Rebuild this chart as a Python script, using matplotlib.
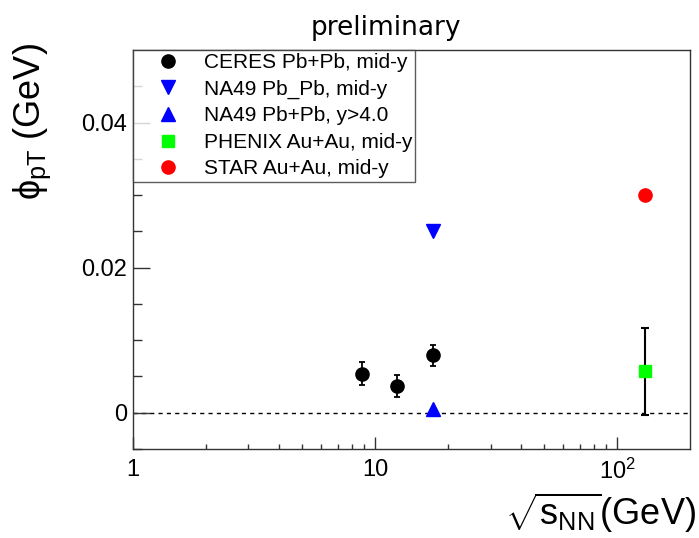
import matplotlib
matplotlib.use('Agg')
import matplotlib.pyplot as plt
from matplotlib.ticker import FixedLocator, FixedFormatter, NullFormatter

plt.rcParams['font.family'] = ['Liberation Sans', 'DejaVu Sans']
plt.rcParams['mathtext.fontset'] = 'custom'
plt.rcParams['mathtext.rm'] = 'Liberation Sans'
plt.rcParams['mathtext.it'] = 'Liberation Sans'
plt.rcParams['mathtext.bf'] = 'Liberation Sans:bold'

# phi_pT vs sqrt(s_NN)
ceres_x = [8.8, 12.3, 17.3]
ceres_y = [0.0054, 0.0037, 0.0079]
ceres_err = [0.0016, 0.0015, 0.0015]

na49_mid_x = [17.3]
na49_mid_y = [0.0251]

na49_fwd_x = [17.3]
na49_fwd_y = [0.0005]

phenix_x = [130.0]
phenix_y = [0.0057]
phenix_err = [0.0060]

star_x = [130.0]
star_y = [0.0300]

fig = plt.figure(figsize=(6.99, 5.38), dpi=100)
ax = fig.add_axes([133 / 699, 89 / 538, 557 / 699, 399 / 538])

ax.axhline(0, color='black', lw=1, ls=(0, (3, 3)), zorder=1)

# error bars first, markers on top (markers carry the legend labels)
ax.errorbar(ceres_x, ceres_y, yerr=ceres_err, fmt='none', ecolor='black',
            capsize=2.5, elinewidth=1.3, capthick=1.3, zorder=2)
ax.errorbar(phenix_x, phenix_y, yerr=phenix_err, fmt='none', ecolor='black',
            capsize=3, elinewidth=1.5, capthick=1.5, zorder=2)

h1, = ax.plot(ceres_x, ceres_y, 'o', color='black', ms=9.5, ls='none',
              label='CERES Pb+Pb, mid-y', zorder=3)
h2, = ax.plot(na49_mid_x, na49_mid_y, 'v', color='#0000ff', ms=9.5, ls='none',
              label='NA49 Pb_Pb, mid-y', zorder=3)
h3, = ax.plot(na49_fwd_x, na49_fwd_y, '^', color='#0000ff', ms=9.5, ls='none',
              label='NA49 Pb+Pb, y>4.0', zorder=3)
h4, = ax.plot(phenix_x, phenix_y, 's', color='#00ff00', ms=9, ls='none',
              label='PHENIX Au+Au, mid-y', zorder=3)
h5, = ax.plot(star_x, star_y, 'o', color='#ff0000', ms=9.5, ls='none',
              label='STAR Au+Au, mid-y', zorder=3)

ax.set_xscale('log')
ax.set_xlim(1, 200)
ax.set_ylim(-0.005, 0.05)

ax.xaxis.set_major_locator(FixedLocator([1, 10, 100]))
ax.xaxis.set_major_formatter(FixedFormatter(['1', '10', r'$10^{2}$']))
minor_x = [m * d for d in (1, 10) for m in range(2, 10)]
ax.xaxis.set_minor_locator(FixedLocator(minor_x))
ax.xaxis.set_minor_formatter(NullFormatter())

ax.yaxis.set_major_locator(FixedLocator([0, 0.02, 0.04]))
ax.yaxis.set_major_formatter(FixedFormatter(['0', '0.02', '0.04']))
ax.yaxis.set_minor_locator(FixedLocator([-0.005, 0.005, 0.01, 0.015, 0.025, 0.03, 0.035, 0.045]))

ax.tick_params(axis='both', which='both', direction='in', top=False, right=False,
               color='#333333', width=1, labelsize=17)
ax.tick_params(axis='y', which='major', length=12.2, pad=4)
ax.tick_params(axis='y', which='minor', length=6.5)
ax.tick_params(axis='x', which='major', length=8.6, pad=7)
ax.tick_params(axis='x', which='minor', length=3.6)
for sp in ax.spines.values():
    sp.set_color('#333333')
    sp.set_linewidth(1)

leg = ax.legend(handles=[h1, h2, h3, h4, h5], loc='upper left', bbox_to_anchor=(0, 1),
                borderaxespad=0, fontsize=15, frameon=True, fancybox=False,
                borderpad=0.15, handlelength=3.1, handletextpad=0.14,
                labelspacing=0.36, numpoints=1)
leg.get_frame().set_edgecolor('#333333')
leg.get_frame().set_linewidth(1)

fig.text(386 / 699, 1 - 35 / 538, 'preliminary', fontsize=19, family='DejaVu Sans',
         ha='center', va='baseline')
fig.text(32 / 699, 1 - 43 / 538, r'$\phi_{\mathrm{pT}}$ (GeV)', fontsize=26,
         rotation=90, ha='center', va='top')
fig.text(696 / 699, 1 - 513 / 538, r'$\sqrt{\mathrm{s}_{\mathrm{NN}}}$(GeV)', fontsize=26,
         ha='right', va='center')

fig.savefig('out.png', dpi=100)
